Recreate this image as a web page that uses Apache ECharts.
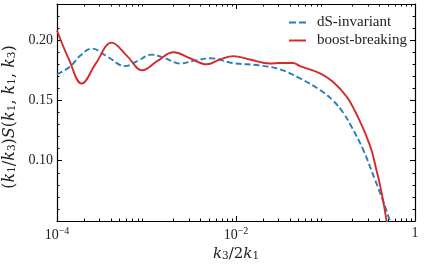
<!DOCTYPE html>
<html><head><meta charset="utf-8">
<script src="https://cdn.jsdelivr.net/npm/echarts@6/dist/echarts.min.js"></script>
<style>html,body{margin:0;padding:0;background:#fff}#c{width:426px;height:267px}</style>
</head><body><div id="c"></div>
<script>
// ---- data ----
const xDS = [1.0e-4,1.40e-4,1.81e-4,2.44e-4,3.72e-4,5.75e-4,8.04e-4,1.14e-3,1.61e-3,2.37e-3,3.48e-3,5.12e-3,9.25e-3,1.85e-2,3.10e-2,5.19e-2,8.69e-2,0.121,0.157,0.196,0.264,0.357,0.443,0.526,0.582];
const yDS = [0.1716,0.178,0.187,0.193,0.186,0.1785,0.183,0.188,0.185,0.1807,0.183,0.185,0.181,0.179,0.1758,0.1683,0.1587,0.150,0.140,0.128,0.109,0.0843,0.066,0.050,0.041];
const xBB = [1.0e-4,1.36e-4,1.89e-4,2.73e-4,4.08e-4,6.05e-4,8.97e-4,1.34e-3,2.0e-3,3.06e-3,4.71e-3,6.62e-3,9.33e-3,1.43e-2,2.40e-2,3.10e-2,4.34e-2,5.19e-2,8.69e-2,0.121,0.173,0.214,0.243,0.284,0.329,0.366,0.406,0.443,0.481,0.506];
const yBB = [0.208,0.184,0.164,0.181,0.198,0.187,0.175,0.183,0.190,0.185,0.180,0.184,0.1868,0.184,0.1807,0.181,0.181,0.1785,0.1725,0.1655,0.153,0.141,0.1325,0.121,0.108,0.094,0.080,0.066,0.050,0.040];
const seriesNames = ['dS-invariant','boost-breaking'];
const xMajorTicks = [1e-4,1e-2,1];
const xMinorTicks = [2e-4,3e-4,4e-4,5e-4,6e-4,7e-4,8e-4,9e-4,2e-3,3e-3,4e-3,5e-3,6e-3,7e-3,8e-3,9e-3,2e-2,3e-2,4e-2,5e-2,6e-2,7e-2,8e-2,9e-2,0.2,0.3,0.4,0.5,0.6,0.7,0.8,0.9];
const yMajorTicks = [0.05,0.10,0.15,0.20];
const yLabelTicks = [0.10,0.15,0.20];
const yMinorTicks = [0.06,0.07,0.08,0.09,0.11,0.12,0.13,0.14,0.16,0.17,0.18,0.19,0.21,0.22,0.23];
const xLabelText = {'0.0001':['10','−4'],'0.01':['10','−2'],'1':['1','']};

// ---- chart ----
const FONT = 'Liberation Serif';
const MFONT = 'DejaVu Serif';
const BLUE = '#2a7cbf', RED = '#d62a2a';
const chart = echarts.init(document.getElementById('c'), null, {renderer:'canvas'});
const axLine = {show:true, lineStyle:{color:'#000', width:1.2}};
function xAx(pos, ticks, len, labels){
  return {type:'log', logBase:10, min:1e-4, max:1, position:pos,
    axisLine: labels ? axLine : {show:false},
    splitLine:{show:false}, minorTick:{show:false},
    axisTick:{show:true, inside:true, length:len, customValues:ticks, lineStyle:{color:'#000', width:1}},
    axisLabel: labels ? {show:true, customValues:xMajorTicks, margin:5,
      formatter:function(v){const k=String(+v.toPrecision(6)); const t=xLabelText[k]||['',''];
        return t[1] ? '{b|'+t[0]+'}{s|'+t[1]+'}' : '{b|'+t[0]+'}';},
      rich:{b:{fontFamily:FONT,fontSize:14,color:'#222'}, s:{fontFamily:FONT,fontSize:10,color:'#222',padding:[0,0,8,0]}}} : {show:false}
  };
}
function yAx(pos, ticks, len, labels){
  return {type:'value', min:0.05, max:0.23, position:pos,
    axisLine: labels ? axLine : {show:false},
    splitLine:{show:false},
    axisTick:{show:true, inside:true, length:len, customValues:ticks, lineStyle:{color:'#000', width:1}},
    axisLabel: labels ? {show:true, customValues:yLabelTicks, margin:4, fontFamily:FONT, fontSize:14, color:'#222',
      formatter:function(v){return v.toFixed(2);}} : {show:false}
  };
}
const it = {fontFamily:MFONT, fontSize:16, fontStyle:'italic', color:'#222'};
const nt = {fontFamily:MFONT, fontSize:16, color:'#222'};
const st = {fontFamily:MFONT, fontSize:10.5, color:'#222', verticalAlign:'bottom'};
const xA = [xAx('bottom', xMajorTicks, 5, true), xAx('bottom', xMinorTicks, 2.5, false), xAx('top', xMajorTicks, 5, false), xAx('top', xMinorTicks, 2.5, false)];
xA[0].name = '{i|k}{s|3}{n|/2}{i|k}{s|1}';
xA[0].nameLocation = 'middle'; xA[0].nameGap = 23;
xA[0].nameTextStyle = {rich:{i:Object.assign({}, it, {fontSize:15}), n:Object.assign({}, nt, {fontSize:15}), s:st}};
const yA = [yAx('left', yMajorTicks, 5, true), yAx('left', yMinorTicks, 2.5, false), yAx('right', yMajorTicks, 5, false), yAx('right', yMinorTicks, 2.5, false)];
yA[0].name = '{n|(}{i|k}{s|1}{n|/}{i|k}{s|3}{n|)}{i|S}{n|(}{i|k}{s|1}{n|, }{i|k}{s|1}{n|, }{i|k}{s|3}{n|)}';
yA[0].nameLocation = 'middle'; yA[0].nameGap = 36; yA[0].nameRotate = 90;
yA[0].nameTextStyle = {rich:{i:it, n:nt, s:st}, padding:[0,9,0,0]};
xA[2].axisLine = axLine; yA[2].axisLine = axLine;

chart.setOption({
  animation:false,
  grid:{left:57, right:11, top:4, bottom:46, containLabel:false, outerBoundsMode:'none'},
  legend:{orient:'vertical', right:14, top:10, itemWidth:17, itemHeight:2, itemGap:3,
    data:[{name:seriesNames[0], icon:'path://M0,0h7v2h-7zM10,0h7v2h-7z'},
          {name:seriesNames[1], icon:'path://M0,0h17v2h-17z'}],
    textStyle:{fontFamily:FONT, fontSize:15, color:'#222', padding:[0,0,0,6]}},
  xAxis:xA, yAxis:yA,
  series:[
    {name:seriesNames[0], type:'line', xAxisIndex:0, yAxisIndex:0, showSymbol:false, symbol:'none', smooth:0.4,
     data:xDS.map((x,i)=>[x,yDS[i]]), lineStyle:{color:BLUE, width:1.9, type:[6,3]}, itemStyle:{color:BLUE}},
    {name:seriesNames[1], type:'line', xAxisIndex:0, yAxisIndex:0, showSymbol:false, symbol:'none', smooth:0.4,
     data:xBB.map((x,i)=>[x,yBB[i]]), lineStyle:{color:RED, width:1.9}, itemStyle:{color:RED}}
  ]
});
</script></body></html>
